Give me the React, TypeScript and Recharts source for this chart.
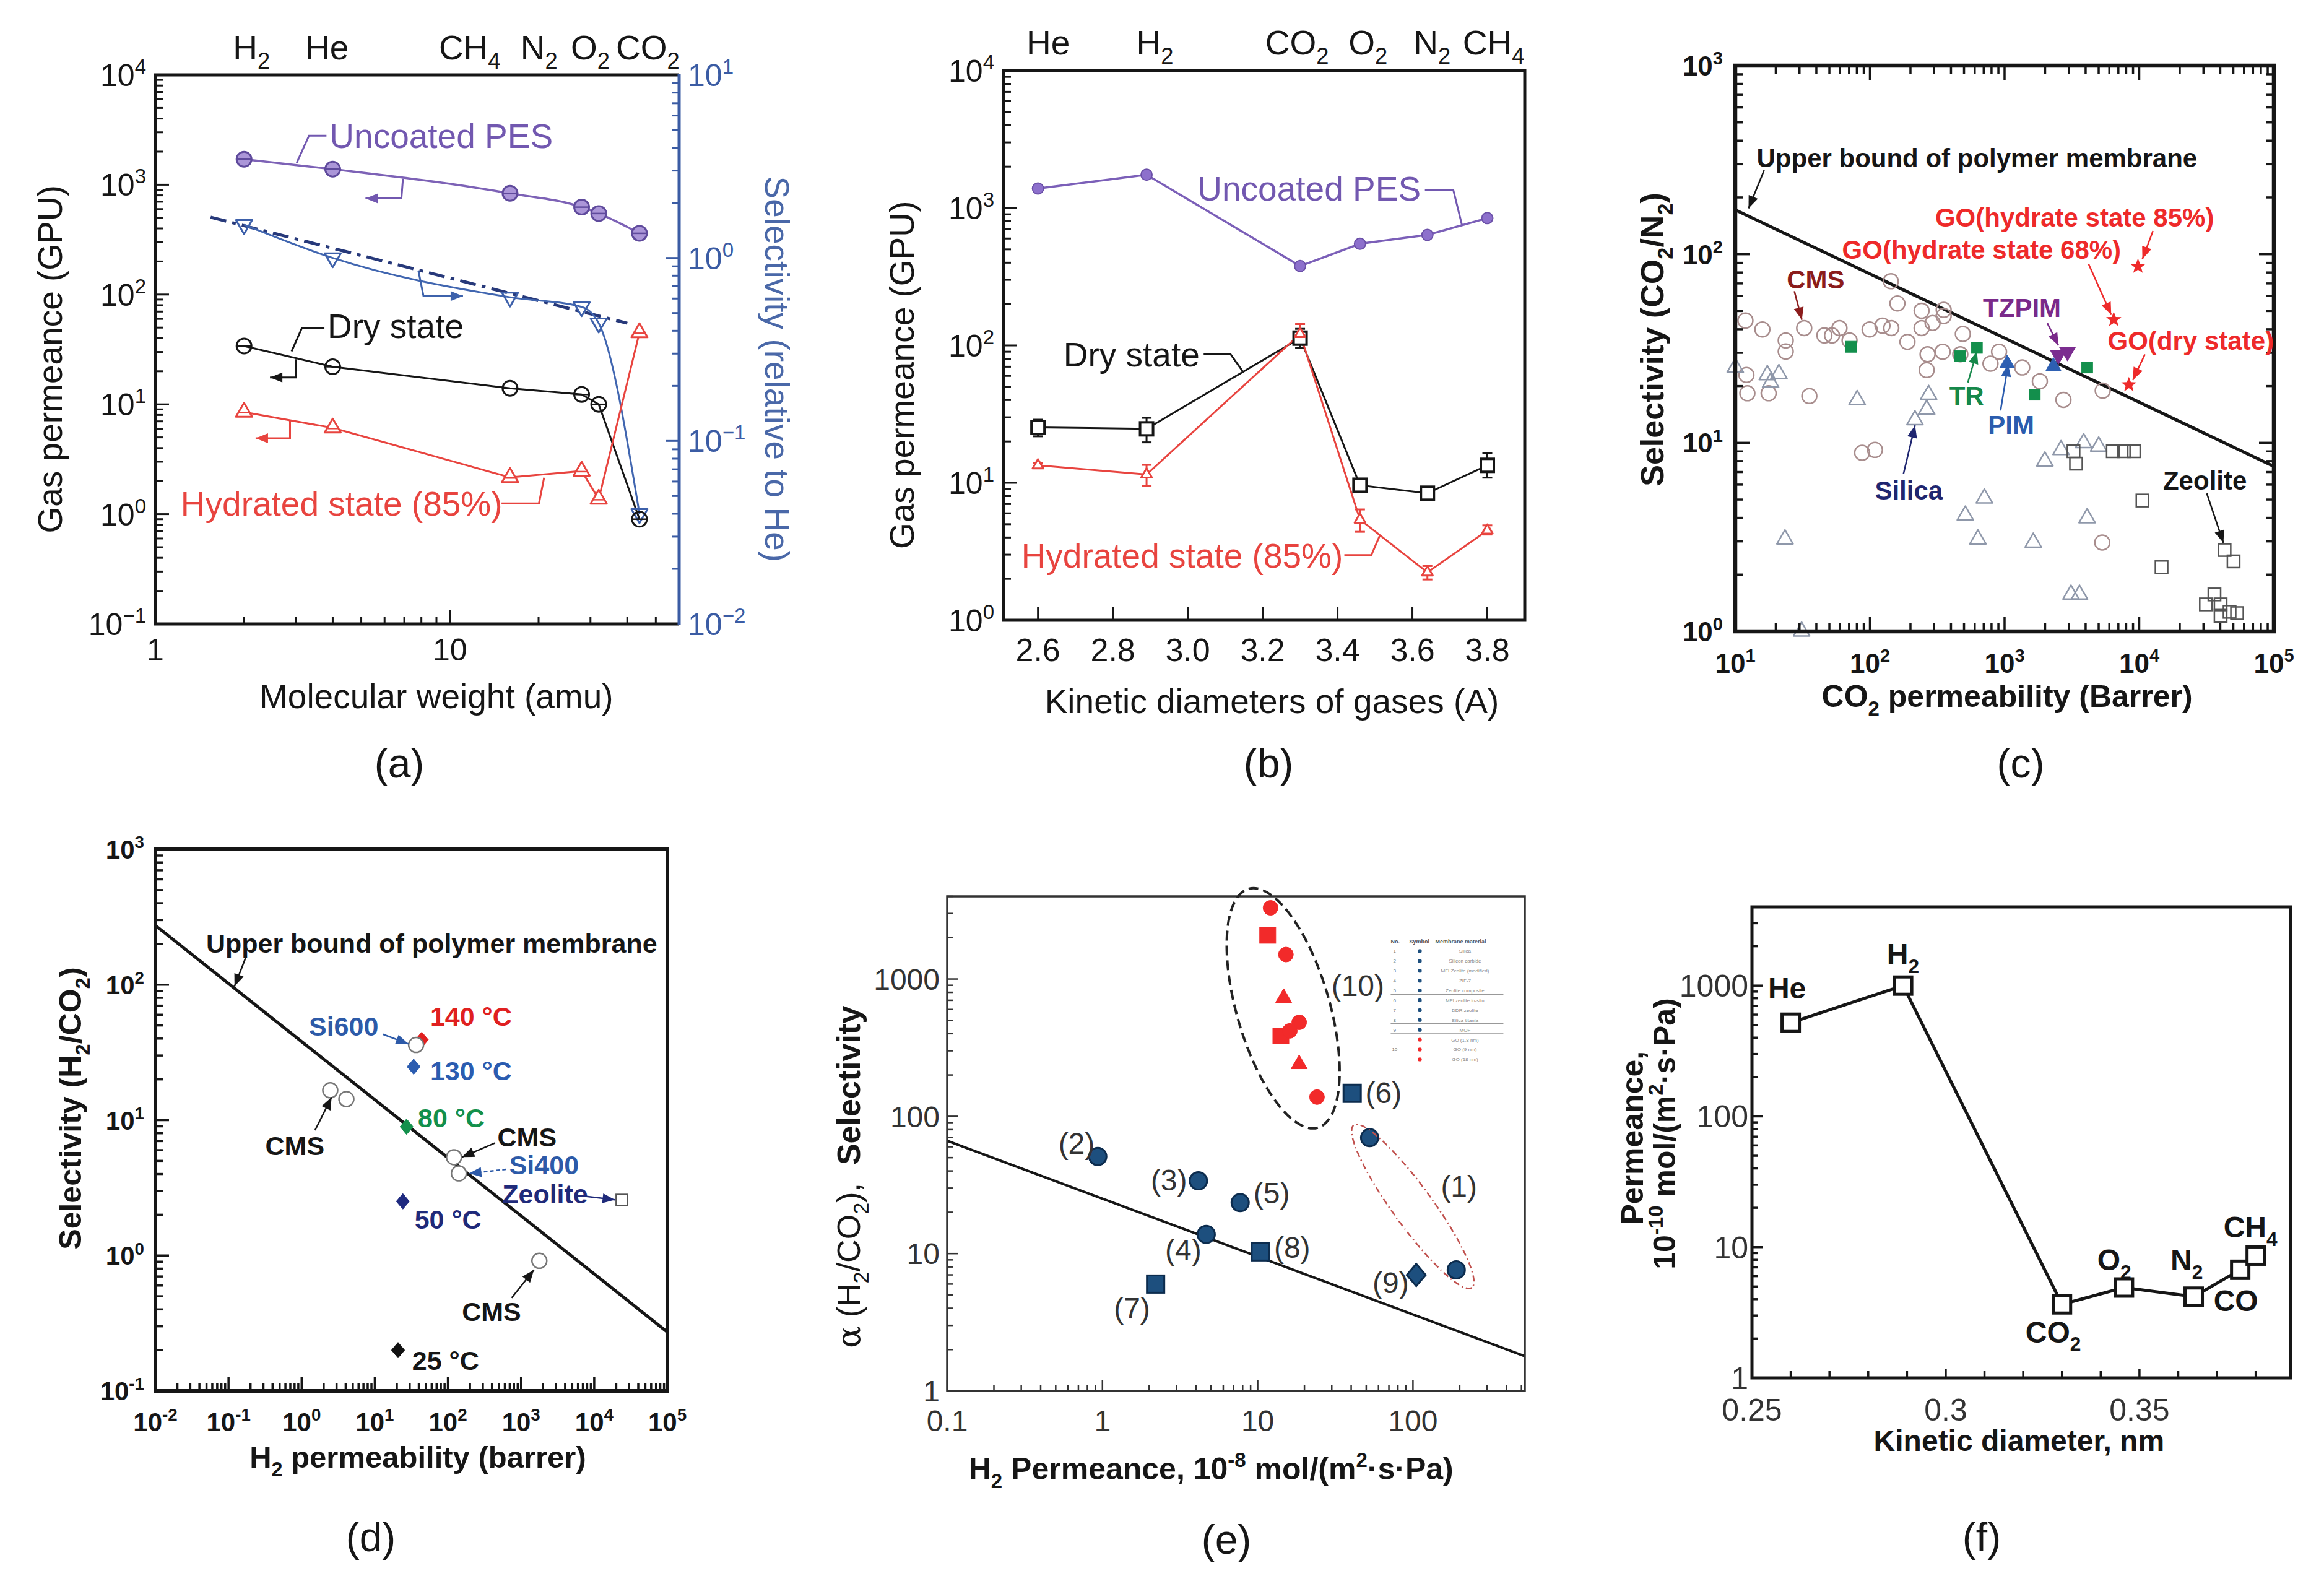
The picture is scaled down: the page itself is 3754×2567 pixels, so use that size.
import React from 'react';
import { ComposedChart, Line, Scatter, XAxis, YAxis, ErrorBar } from 'recharts';

const FONT = '"Liberation Sans", Arial, Helvetica, sans-serif';
const INK = '#161616';
const BLUE_AX = '#3b5ca4';

// ---------- (a) permeance and selectivity vs molecular weight ----------
const mwA = [2, 4, 16, 28, 32, 44];
const gasesA = ['H_2', 'He', 'CH_4', 'N_2', 'O_2', 'CO_2'];
const uncoatedA = [1706, 1387, 835, 625, 547, 361];
const dryA = [34, 22, 14, 12.3, 10, 0.9];
const hydratedA = [8.5, 6.1, 2.16, 2.47, 1.37, 45];
const selectivityA = [1.52, 1.0, 0.61, 0.54, 0.44, 0.04];
const trendXA = [1.54, 40];
const trendYA = [1.67, 0.44];

// ---------- (b) permeance vs kinetic diameter ----------
const kdB = [2.6, 2.89, 3.3, 3.46, 3.64, 3.8];
const gasesB = ['He', 'H_2', 'CO_2', 'O_2', 'N_2', 'CH_4'];
const uncoatedB = [1386, 1746, 378, 549, 637, 844];
const dryB = [25.3, 24.7, 113, 9.6, 8.4, 13.4];
const dryErrB = [[3.5, 3.5], [5, 5], [17, 19], [0.8, 0.8], [0.5, 0.5], [2.5, 3]];
const hydratedB = [13.4, 11.5, 121, 5.4, 2.23, 4.5];
const hydratedErrB = [[0.6, 0.6], [2, 2], [18, 22], [1, 1], [0.25, 0.25], [0.3, 0.4]];
const kdTicksB = [2.6, 2.8, 3.0, 3.2, 3.4, 3.6, 3.8];

// ---------- (c) CO2/N2 selectivity vs CO2 permeability ----------
const boundXC = [10, 100000];
const boundYC = [172, 7.5];
const circlesC = [
  [11.9, 44.5], [15.9, 39.9], [23.7, 34.9], [23.7, 30.5], [32.5, 40.6], [12.1, 22.9], [12.3, 18.3],
  [17.7, 18.3], [35.5, 17.7], [45.9, 37.1], [52.3, 37.1], [59.4, 40.6], [70.6, 34.9], [99.5, 39.9],
  [124, 41.8], [144, 40.6], [143, 71.9], [160, 54.8], [190, 34.3], [242, 50.1], [242, 40.6], [268, 29.5],
  [292, 43.2], [353, 50.7], [353, 47.1], [347, 30.4], [490, 37.8], [469, 29.5], [910, 30.4], [786, 26.3],
  [1352, 25.1], [1828, 21.2], [2737, 16.9], [5357, 18.9], [264, 24.3], [87.5, 8.85], [109, 9.17], [5313, 2.96],
];
const trianglesC = [
  [10, 25.1], [17.3, 22.9], [18.3, 20.9], [21.1, 23.2], [80.4, 16.9], [23.4, 3.08], [31.1, 1.0], [273, 18.0],
  [264, 15.0], [216, 13.2], [511, 4.12], [708, 5.08], [634, 3.08], [1633, 2.96], [1991, 7.98], [2626, 9.17],
  [3866, 9.98], [5002, 9.57], [4102, 3.99], [3114, 1.57], [3602, 1.57],
];
const squaresC = [
  [3251, 9.02], [3396, 7.75], [6367, 9.02], [7690, 9.02], [9141, 9.02], [10570, 4.94], [14650, 2.19],
  [43030, 2.7], [50200, 2.35], [36200, 1.57], [31300, 1.39], [40200, 1.39], [46900, 1.27], [40200, 1.21], [53300, 1.25],
];
const trC = [[72.4, 32.3], [622, 31.9], [469, 28.8], [1674, 18.0], [4102, 25.1]];
const pimC = [[1045, 26.3], [2306, 25.5]];
const tzpimC = [[2512, 29.2], [2931, 30.4]];
const goC = [[9790, 86.2], [6470, 45], [8380, 20.3]];

// ---------- (d) H2/CO2 selectivity vs H2 permeability ----------
const boundXD = [0.01, 100000];
const boundYD = [274, 0.272];
const openCirclesD = [[36.7, 35.9], [2.46, 16.6], [4.09, 14.3], [121, 5.32], [141, 4.04], [1778, 0.914]];
const zeoliteD = [[23800, 2.57]];
const go140D = [[43.9, 39.2]];
const go130D = [[34.0, 24.8]];
const go80D = [[27.2, 8.94]];
const go50D = [[24.2, 2.51]];
const go25D = [[20.8, 0.2]];

// ---------- (e) H2/CO2 selectivity vs H2 permeance ----------
const boundXE = [0.1, 525];
const boundYE = [66.4, 1.79];
const blueCirclesE = [[0.933, 51], [4.15, 33.9], [4.66, 13.8], [7.71, 23.5], [52.6, 69.9], [190, 7.61]];
const blueSquaresE = [[40.6, 147], [2.2, 6.0], [10.4, 10.3]];
const blueDiamondE = [[105, 6.99]];
const redCirclesE = [[12.1, 3301], [15.2, 1507], [18.5, 484], [16.1, 419], [24.1, 138]];
const redSquaresE = [[11.6, 2083], [14.1, 385]];
const redTrianglesE = [[14.7, 729], [18.5, 240]];
const labelsE = ['(1)', '(2)', '(3)', '(4)', '(5)', '(6)', '(7)', '(8)', '(9)', '(10)'];
const legendRowsE = ['Silica', 'Silicon carbide', 'MFI Zeolite (modified)', 'ZIF-7', 'Zeolite composite',
  'MFI zeolite in-situ', 'DDR zeolite', 'Silica-titania', 'MOF', 'GO (1.8 nm)', 'GO (9 nm)', 'GO (18 nm)'];

// ---------- (f) permeance vs kinetic diameter ----------
const kdF = [0.26, 0.289, 0.33, 0.346, 0.364, 0.376, 0.38];
const gasesF = ['He', 'H_2', 'CO_2', 'O_2', 'N_2', 'CO', 'CH_4'];
const permF = [520, 1000, 3.65, 4.91, 4.18, 6.71, 8.61];

const captions = ['(a)', '(b)', '(c)', '(d)', '(e)', '(f)'];

// plot boxes in page pixels
const BOX: any = {
  a: { x0: 251, y0: 121, x1: 1097, y1: 1008 },
  b: { x0: 1621, y0: 114, x1: 2463, y1: 1002 },
  c: { x0: 2803, y0: 106, x1: 3673, y1: 1020 },
  d: { x0: 251, y0: 1372, x1: 1078, y1: 2247 },
  e: { x0: 1530, y0: 1448, x1: 2463, y1: 2247 },
  f: { x0: 2830, y0: 1465, x1: 3700, y1: 2226 },
};
// reference crops used to place the annotations
const ZA = { ox: 0, oy: 0, sx: 1.206, sy: 1.2544 };
const ZB = { ox: 1280, oy: 0, sx: 1.3067, sy: 1.2544 };
const ZC = { ox: 2480, oy: 0, sx: 1.2308, sy: 1.2544 };
const ZD = { ox: 0, oy: 1280, sx: 1.3067, sy: 1.2183 };
const ZE = { ox: 1200, oy: 1280, sx: 1.206, sy: 1.2183 };
const ZF = { ox: 2500, oy: 1280, sx: 1.2504, sy: 1.2183 };

const xy = (xs: number[], ys: number[]) => xs.map((x, i) => ({ x, y: ys[i] }));
const xye = (xs: number[], ys: number[], es: number[][]) => xs.map((x, i) => ({ x, y: ys[i], e: es[i] }));
const pairs = (p: number[][]) => p.map(([x, y]) => ({ x, y }));

const lg = (lo: number, hi: number, p0: number, p1: number) => (v: number) =>
  p0 + ((Math.log10(v) - Math.log10(lo)) / (Math.log10(hi) - Math.log10(lo))) * (p1 - p0);
const lin = (lo: number, hi: number, p0: number, p1: number) => (v: number) => p0 + ((v - lo) / (hi - lo)) * (p1 - p0);
const zz = (m: any, p: number[]) => [m.ox + p[0] / m.sx, m.oy + p[1] / m.sy];

function logVals(lo: number, hi: number) {
  const out: any[] = [];
  for (let e = Math.floor(Math.log10(lo)); e <= Math.ceil(Math.log10(hi)); e++) {
    for (let k = 1; k < 10; k++) {
      const v = k * Math.pow(10, e);
      if (v >= lo * 0.999 && v <= hi * 1.001) out.push({ v, major: k === 1 });
    }
  }
  return out;
}

function rich(s: string, fs: number) {
  const parts: any[] = [];
  const re = /([_^])(\{[^}]*\}|.)/g;
  let last = 0;
  let shift = 0;
  let k = 0;
  let m: any;
  const plain = (t: string) => {
    parts.push(<tspan key={k++} dy={shift ? -shift : undefined} fontSize={fs}>{t}</tspan>);
    shift = 0;
  };
  while ((m = re.exec(s))) {
    if (m.index > last) plain(s.slice(last, m.index));
    const body = m[2][0] === '{' ? m[2].slice(1, -1) : m[2];
    const d = m[1] === '_' ? fs * 0.28 : -fs * 0.4;
    parts.push(<tspan key={k++} dy={d - shift || undefined} fontSize={fs * 0.66}>{body}</tspan>);
    shift = d;
    last = re.lastIndex;
  }
  if (last < s.length) plain(s.slice(last));
  return parts;
}

function TickLabel(props: any) {
  const { x, y, payload, textAnchor, fs, col, fw, pow, minus, bottom, fmt } = props;
  const v = payload.value;
  let s = fmt ? fmt(v) : String(v);
  if (pow) {
    const e = Math.round(Math.log10(v));
    s = `10^{${e < 0 ? minus + -e : e}}`;
  }
  return (
    <text x={x} y={y + (bottom ? fs * 0.74 : fs * 0.36)} textAnchor={textAnchor} fill={col || INK}
      fontSize={fs} fontWeight={fw || 400} fontFamily={FONT}>
      {rich(s, fs)}
    </text>
  );
}

// marker shapes
const tri = (cx: number, cy: number, s: number, down = false) => {
  const k = down ? -1 : 1;
  return `${cx},${cy - k * s} ${cx + 0.87 * s},${cy + k * 0.5 * s} ${cx - 0.87 * s},${cy + k * 0.5 * s}`;
};
const ringBar = (r: number, stroke: string, fill: string) => (p: any) => (
  <g key={p.index}>
    <circle cx={p.cx} cy={p.cy} r={r} fill={fill} stroke={stroke} strokeWidth={3} />
    <line x1={p.cx - r} x2={p.cx + r} y1={p.cy} y2={p.cy} stroke={stroke} strokeWidth={2.5} />
  </g>
);
const triBar = (s: number, stroke: string) => (p: any) => (
  <g key={p.index}>
    <polygon points={tri(p.cx, p.cy, s)} fill="#fff" stroke={stroke} strokeWidth={3} strokeLinejoin="round" />
    <line x1={p.cx - s * 0.55} x2={p.cx + s * 0.55} y1={p.cy + 1} y2={p.cy + 1} stroke={stroke} strokeWidth={2.5} />
  </g>
);
const dot = (r: number, stroke: string, fill: string, sw: number) => (p: any) => (
  <circle key={p.index} cx={p.cx} cy={p.cy} r={r} fill={fill} stroke={stroke} strokeWidth={sw} />
);
const sq = (h: number, stroke: string, fill: string, sw: number) => (p: any) => (
  <rect key={p.index} x={p.cx - h} y={p.cy - h} width={2 * h} height={2 * h} fill={fill} stroke={stroke} strokeWidth={sw} />
);
const triS = (s: number, stroke: string, fill: string, sw: number, down = false) => (p: any) => (
  <polygon key={p.index} points={tri(p.cx, p.cy, s, down)} fill={fill} stroke={stroke} strokeWidth={sw} strokeLinejoin="round" />
);
const dia = (s: number, stroke: string, fill: string, sw: number) => (p: any) => (
  <polygon key={p.index} fill={fill} stroke={stroke} strokeWidth={sw}
    points={`${p.cx},${p.cy - s} ${p.cx + 0.85 * s},${p.cy} ${p.cx},${p.cy + s} ${p.cx - 0.85 * s},${p.cy}`} />
);
const star = (r: number, fill: string) => (p: any) => {
  const pts: string[] = [];
  for (let i = 0; i < 10; i++) {
    const a = -Math.PI / 2 + (i * Math.PI) / 5;
    const rr = i % 2 ? r * 0.42 : r;
    pts.push(`${p.cx + rr * Math.cos(a)},${p.cy + rr * Math.sin(a)}`);
  }
  return <polygon key={p.index} points={pts.join(' ')} fill={fill} />;
};

const hideAx: any = { axisLine: false, tickLine: false, tickSize: 0, interval: 0 };
const noAnim: any = { isAnimationActive: false };
const PT = 80;

function Plot({ box, pad, children }: any) {
  const w = box.x1 - box.x0 + pad.l + pad.r;
  const h = box.y1 - box.y0 + PT + pad.b;
  return (
    <div style={{ position: 'absolute', left: box.x0 - pad.l, top: box.y0 - PT, width: w, height: h }}>
      <ComposedChart width={w} height={h} margin={{ top: PT, right: pad.rm ?? pad.r, bottom: 0, left: 0 }}>
        {children}
      </ComposedChart>
    </div>
  );
}

// ---------- overlay helpers ----------
function T({ x, y, s, fs, fill = INK, fw = 400, anchor = 'start', rot = 0 }: any) {
  return (
    <text x={x} y={y + fs * 0.36} fontSize={fs} fill={fill} fontWeight={fw} fontFamily={FONT} textAnchor={anchor}
      transform={rot ? `rotate(${rot} ${x} ${y})` : undefined}>
      {rich(s, fs)}
    </text>
  );
}
function ZT({ m, z, ...rest }: any) {
  const [x, y] = zz(m, z);
  return <T x={x} y={y} {...rest} />;
}
function Lead({ m, pts, stroke = INK, sw = 3, head = true, dash }: any) {
  const P = pts.map((p: number[]) => zz(m, p));
  const d = P.map((p: number[], i: number) => `${i ? 'L' : 'M'}${p[0]},${p[1]}`).join(' ');
  let hd = null;
  if (head) {
    const [ax, ay] = P[P.length - 2];
    const [bx, by] = P[P.length - 1];
    const a = Math.atan2(by - ay, bx - ax);
    const L = 20;
    const wd = 8;
    const p1 = [bx - L * Math.cos(a) + wd * Math.sin(a), by - L * Math.sin(a) - wd * Math.cos(a)];
    const p2 = [bx - L * Math.cos(a) - wd * Math.sin(a), by - L * Math.sin(a) + wd * Math.cos(a)];
    hd = <polygon points={`${bx},${by} ${p1} ${p2}`} fill={stroke} />;
  }
  return (
    <g>
      <path d={d} fill="none" stroke={stroke} strokeWidth={sw} strokeDasharray={dash} />
      {hd}
    </g>
  );
}
function ZEllipse({ m, p1, p2, ry, stroke, sw, dash }: any) {
  const [ax, ay] = zz(m, p1);
  const [bx, by] = zz(m, p2);
  const cx = (ax + bx) / 2;
  const cy = (ay + by) / 2;
  const rx = Math.hypot(bx - ax, by - ay) / 2;
  const ang = (Math.atan2(by - ay, bx - ax) * 180) / Math.PI;
  return <ellipse cx={cx} cy={cy} rx={rx} ry={ry} transform={`rotate(${ang} ${cx} ${cy})`} fill="none"
    stroke={stroke} strokeWidth={sw} strokeDasharray={dash} />;
}
function Ticks({ vals, pos, at, dir, vertical = false, big = 22, small = 12, stroke = INK, sw = 3 }: any) {
  return (
    <g stroke={stroke} strokeWidth={sw}>
      {vals.map((t: any, i: number) => {
        const p = pos(t.v);
        const len = t.major ? big : small;
        return vertical
          ? <line key={i} x1={at} x2={at + dir * len} y1={p} y2={p} />
          : <line key={i} x1={p} x2={p} y1={at} y2={at + dir * len} />;
      })}
    </g>
  );
}
const Frame = ({ b, sw, stroke = INK }: any) => (
  <rect x={b.x0} y={b.y0} width={b.x1 - b.x0} height={b.y1 - b.y0} fill="none" stroke={stroke} strokeWidth={sw} />
);

// ---------- charts ----------
function ChartA() {
  return (
    <Plot box={BOX.a} pad={{ l: 240, r: 230, b: 140, rm: 0 }}>
      <XAxis type="number" dataKey="x" scale="log" domain={[1, 60]} ticks={[1, 10]} height={140} tickMargin={22}
        {...hideAx} tick={<TickLabel fs={50} bottom />} />
      <YAxis yAxisId="l" type="number" dataKey="y" scale="log" domain={[0.1, 10000]} ticks={[0.1, 1, 10, 100, 1000, 10000]}
        width={240} tickMargin={15} {...hideAx} tick={<TickLabel fs={50} pow minus="−" />} />
      <YAxis yAxisId="r" orientation="right" type="number" dataKey="y" scale="log" domain={[0.01, 10]} ticks={[0.01, 0.1, 1, 10]}
        width={230} tickMargin={14} {...hideAx} tick={<TickLabel fs={50} col={BLUE_AX} pow minus="−" />} />
      <Line yAxisId="r" data={xy(trendXA, trendYA)} dataKey="y" stroke="#27397a" strokeWidth={5}
        strokeDasharray="26 10 6 10" dot={false} activeDot={false} {...noAnim} />
      <Line yAxisId="r" data={xy(mwA, selectivityA)} dataKey="y" type="monotone" stroke="#4166b0" strokeWidth={3}
        dot={triS(15, '#3d60aa', 'none', 3, true)} activeDot={false} {...noAnim} />
      <Line yAxisId="l" data={xy(mwA, uncoatedA)} dataKey="y" type="monotone" stroke="#7d62b6" strokeWidth={3.5}
        dot={ringBar(12, '#5f4a9c', '#ab96d8')} activeDot={false} {...noAnim} />
      <Line yAxisId="l" data={xy(mwA, dryA)} dataKey="y" stroke={INK} strokeWidth={3}
        dot={ringBar(12, INK, 'none')} activeDot={false} {...noAnim} />
      <Line yAxisId="l" data={xy(mwA, hydratedA)} dataKey="y" stroke="#e8443f" strokeWidth={3}
        dot={triBar(15, '#e8443f')} activeDot={false} {...noAnim} />
    </Plot>
  );
}

function ChartB() {
  const red = '#e8443f';
  return (
    <Plot box={BOX.b} pad={{ l: 240, r: 40, b: 140 }}>
      <XAxis type="number" dataKey="x" domain={[2.508, 3.9]} ticks={kdTicksB} height={140}
        tickMargin={28} {...hideAx} tick={<TickLabel fs={52} bottom fmt={(v: number) => v.toFixed(1)} />} />
      <YAxis type="number" dataKey="y" scale="log" domain={[1, 10000]} ticks={[1, 10, 100, 1000, 10000]}
        width={240} tickMargin={15} {...hideAx} tick={<TickLabel fs={50} pow minus="−" />} />
      <Line data={xy(kdB, uncoatedB)} dataKey="y" stroke="#7b5fb8" strokeWidth={3.5}
        dot={dot(9, '#6b50a8', '#8d70cc', 2)} activeDot={false} {...noAnim} />
      <Line data={xye(kdB, dryB, dryErrB)} dataKey="y" stroke={INK} strokeWidth={3}
        dot={sq(10.5, INK, '#fff', 4)} activeDot={false} {...noAnim}>
        <ErrorBar dataKey="e" direction="y" width={8} strokeWidth={3} stroke={INK} {...noAnim} />
      </Line>
      <Line data={xye(kdB, hydratedB, hydratedErrB)} dataKey="y" stroke={red} strokeWidth={3}
        dot={triS(10, red, '#fff', 3)} activeDot={false} {...noAnim}>
        <ErrorBar dataKey="e" direction="y" width={8} strokeWidth={3} stroke={red} {...noAnim} />
      </Line>
    </Plot>
  );
}

function ChartC() {
  return (
    <Plot box={BOX.c} pad={{ l: 240, r: 60, b: 140 }}>
      <XAxis type="number" dataKey="x" scale="log" domain={[10, 100000]} ticks={[10, 100, 1000, 10000, 100000]}
        height={140} tickMargin={34} {...hideAx} tick={<TickLabel fs={44} fw={700} bottom pow minus="-" />} />
      <YAxis type="number" dataKey="y" scale="log" domain={[1, 1000]} ticks={[1, 10, 100, 1000]}
        width={240} tickMargin={20} {...hideAx} tick={<TickLabel fs={44} fw={700} pow minus="-" />} />
      <Line data={xy(boundXC, boundYC)} dataKey="y" stroke={INK} strokeWidth={5} dot={false} activeDot={false} {...noAnim} />
      <Scatter data={pairs(circlesC)} dataKey="y" shape={dot(12, '#a88d8d', 'none', 2.5)} {...noAnim} />
      <Scatter data={pairs(trianglesC)} dataKey="y" shape={triS(15, '#8f98aa', 'none', 2.5)} {...noAnim} />
      <Scatter data={pairs(squaresC)} dataKey="y" shape={sq(10, '#555', 'none', 2.5)} {...noAnim} />
      <Scatter data={pairs(trC)} dataKey="y" shape={sq(9, '#138f4c', '#138f4c', 1)} {...noAnim} />
      <Scatter data={pairs(pimC)} dataKey="y" shape={triS(14, '#2d5fb2', '#2d5fb2', 1)} {...noAnim} />
      <Scatter data={pairs(tzpimC)} dataKey="y" shape={triS(15, '#7b2d90', '#7b2d90', 1, true)} {...noAnim} />
      <Scatter data={pairs(goC)} dataKey="y" shape={star(13, '#ee2a2a')} {...noAnim} />
    </Plot>
  );
}

function ChartD() {
  return (
    <Plot box={BOX.d} pad={{ l: 240, r: 60, b: 140 }}>
      <XAxis type="number" dataKey="x" scale="log" domain={[0.01, 100000]}
        ticks={[0.01, 0.1, 1, 10, 100, 1000, 10000, 100000]} height={140} tickMargin={34} {...hideAx}
        tick={<TickLabel fs={42} fw={700} bottom pow minus="-" />} />
      <YAxis type="number" dataKey="y" scale="log" domain={[0.1, 1000]} ticks={[0.1, 1, 10, 100, 1000]}
        width={240} tickMargin={18} {...hideAx} tick={<TickLabel fs={42} fw={700} pow minus="-" />} />
      <Line data={xy(boundXD, boundYD)} dataKey="y" stroke={INK} strokeWidth={5} dot={false} activeDot={false} {...noAnim} />
      <Scatter data={pairs(go140D)} dataKey="y" shape={dia(12.5, '#e02020', '#e02020', 1)} {...noAnim} />
      <Scatter data={pairs(go130D)} dataKey="y" shape={dia(12.5, '#2b5cb0', '#2b5cb0', 1)} {...noAnim} />
      <Scatter data={pairs(go80D)} dataKey="y" shape={dia(12.5, '#13904c', '#13904c', 1)} {...noAnim} />
      <Scatter data={pairs(go50D)} dataKey="y" shape={dia(12.5, '#1f2a80', '#1f2a80', 1)} {...noAnim} />
      <Scatter data={pairs(go25D)} dataKey="y" shape={dia(12.5, '#111', '#111', 1)} {...noAnim} />
      <Scatter data={pairs(openCirclesD)} dataKey="y" shape={dot(12, '#777', '#fff', 2.5)} {...noAnim} />
      <Scatter data={pairs(zeoliteD)} dataKey="y" shape={sq(9, '#555', '#fff', 2.5)} {...noAnim} />
    </Plot>
  );
}

function ChartE() {
  const navy = '#1d4f7e';
  const navyEdge = '#0c2c4e';
  const red = '#f22a2a';
  return (
    <Plot box={BOX.e} pad={{ l: 240, r: 60, b: 140 }}>
      <XAxis type="number" dataKey="x" scale="log" domain={[0.1, 525]} ticks={[0.1, 1, 10, 100]} height={140}
        tickMargin={29} {...hideAx} tick={<TickLabel fs={48} col="#333" bottom />} />
      <YAxis type="number" dataKey="y" scale="log" domain={[1, 4000]} ticks={[1, 10, 100, 1000]}
        width={240} tickMargin={12} {...hideAx} tick={<TickLabel fs={48} col="#333" />} />
      <Line data={xy(boundXE, boundYE)} dataKey="y" stroke={INK} strokeWidth={4} dot={false} activeDot={false} {...noAnim} />
      <Scatter data={pairs(blueCirclesE)} dataKey="y" shape={dot(14, navyEdge, navy, 3)} {...noAnim} />
      <Scatter data={pairs(blueSquaresE)} dataKey="y" shape={sq(14, navyEdge, navy, 3)} {...noAnim} />
      <Scatter data={pairs(blueDiamondE)} dataKey="y" shape={dia(18, navyEdge, navy, 3)} {...noAnim} />
      <Scatter data={pairs(redSquaresE)} dataKey="y" shape={sq(13, red, red, 1)} {...noAnim} />
      <Scatter data={pairs(redCirclesE)} dataKey="y" shape={dot(12, red, red, 1)} {...noAnim} />
      <Scatter data={pairs(redTrianglesE)} dataKey="y" shape={triS(15, red, red, 1)} {...noAnim} />
    </Plot>
  );
}

function ChartF() {
  return (
    <Plot box={BOX.f} pad={{ l: 240, r: 60, b: 140 }}>
      <XAxis type="number" dataKey="x" domain={[0.25, 0.389]} ticks={[0.25, 0.3, 0.35]} height={140}
        tickMargin={32} {...hideAx} tick={<TickLabel fs={50} col="#333" bottom />} />
      <YAxis type="number" dataKey="y" scale="log" domain={[1, 4000]} ticks={[1, 10, 100, 1000]}
        width={240} tickMargin={6} {...hideAx} tick={<TickLabel fs={50} col="#333" />} />
      <Line data={xy(kdF, permF)} dataKey="y" stroke={INK} strokeWidth={5}
        dot={sq(14, INK, '#fff', 5)} activeDot={false} {...noAnim} />
    </Plot>
  );
}

// ---------- overlays: frames, minor ticks, titles, notes ----------
function OverA() {
  const b = BOX.a;
  const m = ZA;
  const X = lg(1, 60, b.x0, b.x1);
  const YL = lg(0.1, 10000, b.y1, b.y0);
  const YR = lg(0.01, 10, b.y1, b.y0);
  const purple = '#7258b0';
  const red = '#e8443f';
  const blue = '#3d62ab';
  const gasZ = [490, 637, 915, 1050, 1150, 1262];
  return (
    <g>
      <Ticks vertical vals={logVals(0.1, 10000)} pos={YL} at={b.x0} dir={1} />
      <Ticks vertical vals={logVals(0.01, 10)} pos={YR} at={b.x1} dir={-1} stroke={BLUE_AX} />
      <Ticks vals={logVals(1, 60)} pos={X} at={b.y1} dir={-1} />
      <path d={`M${b.x1},${b.y0} L${b.x0},${b.y0} L${b.x0},${b.y1} L${b.x1},${b.y1}`} fill="none" stroke={INK} strokeWidth={5} />
      <line x1={b.x1} x2={b.x1} y1={b.y0 - 2} y2={b.y1 + 2} stroke={BLUE_AX} strokeWidth={5} />
      {gasesA.map((g, i) => <ZT key={g} m={m} z={[gasZ[i], 95]} s={g} fs={55} anchor="middle" />)}
      <ZT m={m} z={[97, 728]} s="Gas permeance (GPU)" fs={55} anchor="middle" rot={-90} />
      <ZT m={m} z={[1515, 748]} s="Selectivity (relative to He)" fs={55} anchor="middle" rot={90} fill="#4a68a8" />
      <ZT m={m} z={[850, 1410]} s="Molecular weight (amu)" fs={55} anchor="middle" />
      <ZT m={m} z={[642, 275]} s="Uncoated PES" fs={55} fill={purple} />
      <Lead m={m} pts={[[636, 275], [602, 275], [578, 330]]} stroke={purple} head={false} />
      <Lead m={m} pts={[[785, 362], [782, 402], [712, 402]]} stroke={purple} />
      <Lead m={m} pts={[[815, 548], [825, 600], [902, 600]]} stroke={blue} />
      <ZT m={m} z={[638, 660]} s="Dry state" fs={55} />
      <Lead m={m} pts={[[632, 665], [588, 665], [568, 712]]} head={false} />
      <Lead m={m} pts={[[576, 728], [576, 765], [526, 765]]} />
      <Lead m={m} pts={[[565, 852], [565, 888], [498, 888]]} stroke={red} />
      <ZT m={m} z={[352, 1020]} s="Hydrated state (85%)" fs={55} fill={red} />
      <Lead m={m} pts={[[977, 1020], [1050, 1020], [1060, 968]]} stroke={red} head={false} />
    </g>
  );
}

function OverB() {
  const b = BOX.b;
  const m = ZB;
  const X = lin(2.508, 3.9, b.x0, b.x1);
  const Y = lg(1, 10000, b.y1, b.y0);
  const gasZ = [540, 765, 1065, 1215, 1350, 1480];
  const red = '#e8443f';
  const purple = '#7258b0';
  return (
    <g>
      <Ticks vertical vals={logVals(1, 10000)} pos={Y} at={b.x0} dir={1} />
      <Ticks vals={kdTicksB.map((v) => ({ v, major: true }))} pos={X} at={b.y1} dir={-1} />
      <Frame b={b} sw={5} />
      {gasesB.map((g, i) => <ZT key={g} m={m} z={[gasZ[i], 85]} s={g} fs={55} anchor="middle" />)}
      <ZT m={m} z={[230, 760]} s="Gas permeance (GPU)" fs={55} anchor="middle" rot={-90} />
      <ZT m={m} z={[1012, 1420]} s="Kinetic diameters of gases (A)" fs={55} anchor="middle" />
      <ZT m={m} z={[855, 382]} s="Uncoated PES" fs={55} fill={purple} />
      <Lead m={m} pts={[[1335, 385], [1395, 385], [1413, 455]]} stroke={purple} head={false} />
      <ZT m={m} z={[572, 718]} s="Dry state" fs={55} />
      <Lead m={m} pts={[[868, 718], [925, 718], [950, 752]]} head={false} />
      <ZT m={m} z={[483, 1125]} s="Hydrated state (85%)" fs={55} fill={red} />
      <Lead m={m} pts={[[1165, 1125], [1222, 1125], [1240, 1085]]} stroke={red} head={false} />
    </g>
  );
}

function OverC() {
  const b = BOX.c;
  const m = ZC;
  const X = lg(10, 100000, b.x0, b.x1);
  const Y = lg(1, 1000, b.y1, b.y0);
  const red = '#ee2a2a';
  const notes: any[] = [
    ['Upper bound of polymer membrane', [440, 320], INK, [[455, 345], [424, 422]]],
    ['GO(hydrate state 85%)', [795, 440], red, [[1228, 468], [1207, 525]]],
    ['GO(hydrate state 68%)', [610, 505], red, [[1100, 535], [1145, 638]]],
    ['GO(dry state)', [1138, 690], red, [[1212, 718], [1188, 770]]],
    ['CMS', [500, 565], '#8b1c1c', [[515, 590], [530, 648]]],
    ['TZPIM', [890, 623], '#7a2a8a', [[1018, 655], [1040, 700]]],
    ['TR', [823, 802], '#15884a', [[860, 775], [878, 712]]],
    ['PIM', [900, 860], '#2b5cae', [[925, 832], [940, 738]]],
    ['Silica', [675, 993], '#1f2670', [[732, 960], [755, 862]]],
    ['Zeolite', [1248, 973], INK, [[1335, 1000], [1368, 1100]]],
  ];
  return (
    <g>
      <Ticks vertical vals={logVals(1, 1000)} pos={Y} at={b.x0} dir={1} big={24} small={13} sw={3.5} />
      <Ticks vertical vals={logVals(1, 1000)} pos={Y} at={b.x1} dir={-1} big={24} small={13} sw={3.5} />
      <Ticks vals={logVals(10, 100000)} pos={X} at={b.y1} dir={-1} big={24} small={13} sw={3.5} />
      <Ticks vals={logVals(10, 100000)} pos={X} at={b.y0} dir={1} big={24} small={13} sw={3.5} />
      <Frame b={b} sw={6.5} />
      <ZT m={m} z={[232, 688]} s="Selectivity (CO_2/N_2)" fs={52} fw={700} anchor="middle" rot={-90} />
      <ZT m={m} z={[938, 1410]} s="CO_2 permeability (Barrer)" fs={50} fw={700} anchor="middle" />
      {notes.map(([s, z, c, pts]) => (
        <g key={s}>
          <ZT m={m} z={z} s={s} fs={42} fw={700} fill={c} />
          <Lead m={m} pts={pts} stroke={c} sw={2.5} />
        </g>
      ))}
    </g>
  );
}

function OverD() {
  const b = BOX.d;
  const m = ZD;
  const X = lg(0.01, 100000, b.x0, b.x1);
  const Y = lg(0.1, 1000, b.y1, b.y0);
  const blue = '#2d5aa8';
  const notes: any[] = [
    ['Upper bound of polymer membrane', [435, 297], INK, [[520, 322], [495, 382]]],
    ['Si600', [652, 460], blue, [[808, 476], [862, 495]]],
    ['140 °C', [908, 440], '#e02020', null],
    ['130 °C', [908, 548], '#2b5cb0', null],
    ['80 °C', [882, 640], '#13904c', null],
    ['50 °C', [875, 840], '#1f2a7a', null],
    ['25 °C', [870, 1118], INK, null],
    ['CMS', [560, 695], INK, [[665, 665], [700, 600]]],
    ['CMS ', [1050, 678], INK, [[1045, 690], [975, 718]]],
    ['Si400', [1075, 733], blue, [[1068, 742], [990, 750]]],
    ['Zeolite', [1060, 790], '#1f2a7a', [[1235, 795], [1298, 802]]],
    ['CMS  ', [975, 1022], INK, [[1080, 995], [1127, 940]]],
  ];
  return (
    <g>
      <Ticks vertical vals={logVals(0.1, 1000)} pos={Y} at={b.x0} dir={1} big={22} small={12} sw={3.5} />
      <Ticks vals={logVals(0.01, 100000)} pos={X} at={b.y1} dir={-1} big={22} small={12} sw={3.5} />
      <Frame b={b} sw={6} />
      <ZT m={m} z={[148, 622]} s="Selectivity (H_2/CO_2)" fs={50} fw={700} anchor="middle" rot={-90} />
      <ZT m={m} z={[882, 1308]} s="H_2 permeability (barrer)" fs={49} fw={700} anchor="middle" />
      {notes.map(([s, z, c, pts]) => (
        <g key={s}>
          <ZT m={m} z={z} s={s.trim()} fs={43} fw={700} fill={c} />
          {pts && <Lead m={m} pts={pts} stroke={c} sw={2.5} dash={s === 'Si400' ? '6 4' : undefined} />}
        </g>
      ))}
    </g>
  );
}

function OverE() {
  const b = BOX.e;
  const m = ZE;
  const X = lg(0.1, 525, b.x0, b.x1);
  const Y = lg(1, 4000, b.y1, b.y0);
  const labelZ = [[1395, 775], [650, 690], [830, 762], [858, 900], [1030, 788], [1248, 590], [758, 1015],
    [1070, 895], [1262, 965], [1198, 380]];
  const [tx, ty] = zz(m, [205, 757]);
  const [lx, ly] = zz(m, [1262, 293]);
  const rowY = (i: number) => ly + 16 + i * 15.9;
  return (
    <g>
      <Ticks vertical vals={logVals(1, 4000)} pos={Y} at={b.x0} dir={1} big={18} small={10} stroke="#333" sw={2.5} />
      <Ticks vals={logVals(0.1, 525)} pos={X} at={b.y1} dir={-1} big={18} small={10} stroke="#333" sw={2.5} />
      <Frame b={b} sw={3.5} stroke="#333" />
      <ZEllipse m={m} p1={[985, 190]} p2={[1120, 660]} ry={75} stroke="#222" sw={4} dash="16 8" />
      <ZEllipse m={m} p1={[1190, 655]} p2={[1420, 975]} ry={32} stroke="#c0504d" sw={2.5} dash="10 5 2 5" />
      {labelsE.map((s, i) => <ZT key={s} m={m} z={labelZ[i]} s={s} fs={48} fill="#333" anchor="middle" />)}
      <text x={tx} y={ty + 52 * 0.36} transform={`rotate(-90 ${tx} ${ty})`} textAnchor="middle" fontSize={52}
        fontFamily={FONT} fill={INK}>
        <tspan fontFamily='"DejaVu Serif", serif' fontWeight={400}>α</tspan>
        <tspan fontWeight={400}>{rich('\u00a0(H_2/CO_2),', 52)}</tspan>
        <tspan fontWeight={700}>{'\u00a0\u00a0Selectivity'}</tspan>
      </text>
      <ZT m={m} z={[912, 1330]} s="H_2 Permeance, 10^{-8} mol/(m^2·s·Pa)" fs={50} fw={700} anchor="middle" />
      <g fontFamily={FONT}>
        <text x={lx} y={ly + 4} fontSize={9} fontWeight={700} fill="#555">No.</text>
        <text x={lx + 30} y={ly + 4} fontSize={9} fontWeight={700} fill="#555">Symbol</text>
        <text x={lx + 72} y={ly + 4} fontSize={9} fontWeight={700} fill="#555">Membrane material</text>
        {legendRowsE.map((s, i) => (
          <g key={s}>
            {i < 9 && <text x={lx + 4} y={rowY(i) + 3} fontSize={8} fill="#777">{i + 1}</text>}
            {i === 10 && <text x={lx + 2} y={rowY(i) + 3} fontSize={8} fill="#777">10</text>}
            <circle cx={lx + 47} cy={rowY(i)} r={3.2} fill={i < 9 ? '#1d4f7e' : '#f22a2a'} />
            <text x={lx + 120} y={rowY(i) + 3} fontSize={8} fill="#888" textAnchor="middle">{s}</text>
          </g>
        ))}
        {[398, 455, 475].map((zy) => {
          const [, yy] = zz(m, [0, zy]);
          return <line key={zy} x1={lx} x2={lx + 182} y1={yy} y2={yy} stroke="#999" strokeWidth={1.5} />;
        })}
      </g>
    </g>
  );
}

function OverF() {
  const b = BOX.f;
  const m = ZF;
  const X = lin(0.25, 0.389, b.x0, b.x1);
  const Y = lg(1, 4000, b.y1, b.y0);
  const gasZ = [[445, 385], [685, 318], [965, 1062], [1110, 920], [1258, 920], [1345, 1000], [1365, 855]];
  const xt: any[] = [];
  for (let i = 0; i <= 13; i++) xt.push({ v: 0.25 + i * 0.01, major: i % 5 === 0 });
  const [ax, ay] = zz(m, [170, 680]);
  const [bx, by] = zz(m, [235, 672]);
  return (
    <g>
      <Ticks vertical vals={logVals(1, 4000)} pos={Y} at={b.x0} dir={1} big={18} small={10} sw={3.5} />
      <Ticks vals={xt} pos={X} at={b.y1} dir={-1} big={15} small={11} sw={3.5} />
      <Frame b={b} sw={5} />
      {gasesF.map((g, i) => <ZT key={g} m={m} z={gasZ[i]} s={g} fs={48} fw={700} />)}
      <T x={ax} y={ay} s="Permeance," fs={50} fw={700} anchor="middle" rot={-90} />
      <T x={bx} y={by} s="10^{-10} mol/(m^2·s·Pa)" fs={50} fw={700} anchor="middle" rot={-90} />
      <ZT m={m} z={[952, 1275]} s="Kinetic diameter, nm" fs={48} fw={700} anchor="middle" />
    </g>
  );
}

const captionXY = [[645, 1232], [2049, 1232], [3264, 1232], [599, 2482], [1981, 2486], [3201, 2482]];

export default function App() {
  return (
    <div style={{ position: 'absolute', left: 0, top: 0, width: 3754, height: 2567, background: '#fff', overflow: 'hidden' }}>
      <ChartA />
      <ChartB />
      <ChartC />
      <ChartD />
      <ChartE />
      <ChartF />
      <svg width={3754} height={2567} style={{ position: 'absolute', left: 0, top: 0, pointerEvents: 'none' }}>
        <OverA />
        <OverB />
        <OverC />
        <OverD />
        <OverE />
        <OverF />
        {captions.map((c, i) => (
          <T key={c} x={captionXY[i][0]} y={captionXY[i][1]} s={c} fs={66} anchor="middle" />
        ))}
      </svg>
    </div>
  );
}
